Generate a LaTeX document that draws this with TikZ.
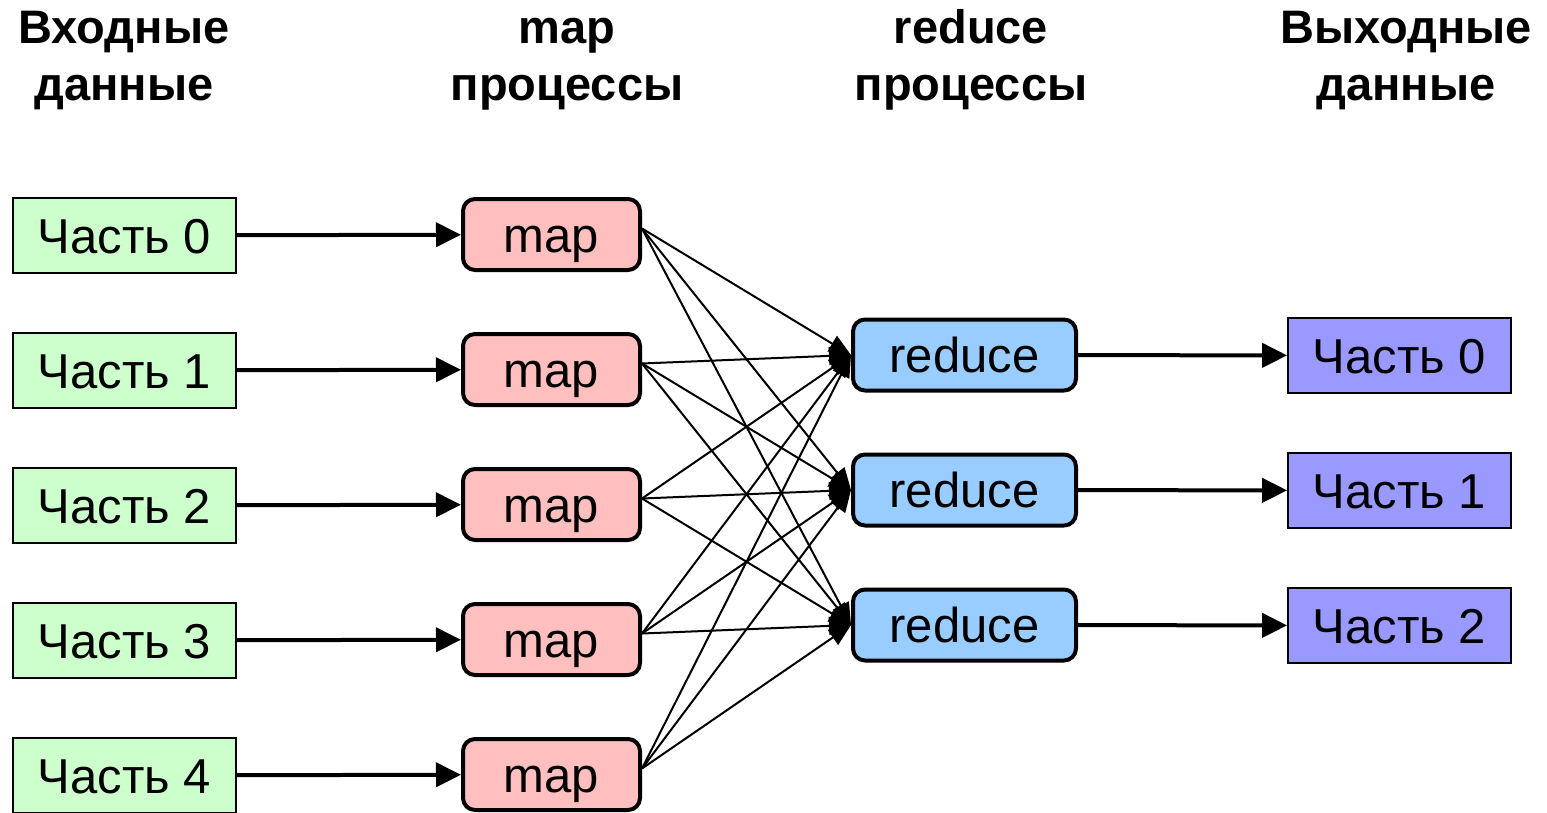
\documentclass[tikz,border=0pt]{standalone}
\usepackage{fontspec}
\setmainfont{Liberation Sans}
\usetikzlibrary{arrows.meta}
\definecolor{ingreen}{HTML}{CCFFCC}
\definecolor{mappink}{HTML}{FFBFBF}
\definecolor{redblue}{HTML}{99CCFF}
\definecolor{outviolet}{HTML}{9999FF}
\begin{document}
\begin{tikzpicture}[x=0.5pt,y=-0.5pt,
  hdr/.style={font=\bfseries\fontsize{23.5}{28.5}\selectfont, align=center, inner sep=0pt, anchor=base},
  part/.style={draw, line width=0.9pt, minimum width=111.5pt, minimum height=37.5pt, inner sep=0pt, text height=17.5pt, text depth=0pt, font=\fontsize{24.5}{29}\selectfont},
  inpart/.style={part, fill=ingreen},
  outpart/.style={part, fill=outviolet},
  proc/.style={draw, line width=2pt, rounded corners=6pt, minimum height=35.5pt, inner sep=0pt, text height=17.5pt, text depth=0pt, font=\fontsize{24.5}{29}\selectfont},
  mapbox/.style={proc, fill=mappink, minimum width=88.5pt},
  redbox/.style={proc, fill=redblue, minimum width=111.5pt},
  bigarrow/.style={line width=2pt, -{Triangle[length=12.5pt,width=12pt]}},
  thinarrow/.style={line width=1pt, -{Triangle[length=11pt,width=9pt]}}
]
\useasboundingbox (0,0) rectangle (1547,813);

\node[hdr] (h1) at (124,101) {Входные\\данные};
\node[hdr] (h2) at (567,101) {map\\процессы};
\node[hdr] (h3) at (971,101) {reduce\\процессы};
\node[hdr] (h4) at (1406,101) {Выходные\\данные};

\foreach \i/\y in {0/235.5,1/370.5,2/505.5,3/640.5,4/775.5}{
  \node[inpart] (in\i) at (124.5,\y) {Часть \i};
  \node[mapbox] (m\i) at (551.5,\y-1) {map};
  \draw[bigarrow] (in\i) -- (m\i);
}
\foreach \j/\y in {0/355,1/490,2/625}{
  \node[redbox] (r\j) at (964.5,\y) {reduce};
  \node[outpart] (out\j) at (1399.5,\y+0.5) {Часть \j};
  \draw[bigarrow] (r\j) -- (out\j);
}
\foreach \i in {0,...,4}{
  \foreach \j in {0,...,2}{
    \draw[thinarrow] ([yshift=3pt]m\i.east) -- (r\j.west);
  }
}
\end{tikzpicture}
\end{document}
